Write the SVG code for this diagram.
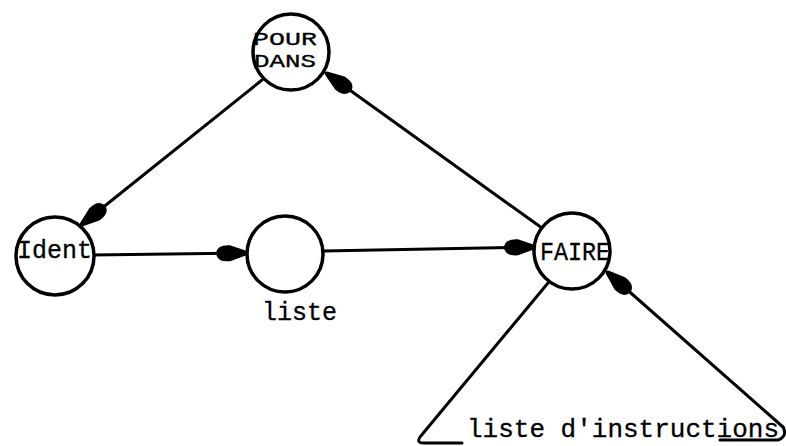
<svg xmlns="http://www.w3.org/2000/svg" width="786" height="446" viewBox="0 0 786 446">
<style>
.n{fill:#fff;stroke:#000;stroke-width:3.5}
.t{font-family:"Liberation Mono","DejaVu Sans Mono",monospace;font-size:26px;fill:#000;stroke:#000;stroke-width:0.3}
.s{font-size:19px}
.e{fill:none;stroke:#000;stroke-width:3;stroke-linecap:round;stroke-linejoin:round}
</style>
<defs>
<marker id="ah" markerUnits="userSpaceOnUse" markerWidth="40" markerHeight="24" refX="0" refY="0" viewBox="-34 -12 40 24" orient="auto" overflow="visible">
<path d="M0,-2 L-17,-8 Q-30,-9 -31,0 Q-30,9 -17,8 L0,2 Z" fill="#000"/>
</marker>
</defs>
<rect width="786" height="446" fill="#fff"/>
<g id="connectors">
<line class="e" x1="262" y1="80" x2="81" y2="225" marker-end="url(#ah)"/>
<line class="e" x1="542" y1="228" x2="326" y2="73" marker-end="url(#ah)"/>
<line class="e" x1="92" y1="255" x2="247" y2="253" marker-end="url(#ah)"/>
<line class="e" x1="323" y1="251" x2="535" y2="247" marker-end="url(#ah)"/>
<path class="e" d="M783,427 L607,272" marker-end="url(#ah)"/>
</g>
<g id="pour-dans">
<circle class="n" cx="291" cy="52" r="38"/>
<text class="t s" x="253" y="45" textLength="64" lengthAdjust="spacingAndGlyphs">POUR</text>
<text class="t s" x="254" y="67" textLength="62" lengthAdjust="spacingAndGlyphs">DANS</text>
</g>
<g id="ident">
<circle class="n" cx="55" cy="256" r="39"/>
<text class="t" x="17" y="258" textLength="75" lengthAdjust="spacingAndGlyphs">Ident</text>
</g>
<g id="liste">
<circle class="n" cx="285" cy="254" r="38"/>
<text class="t" x="262" y="320" textLength="75" lengthAdjust="spacingAndGlyphs">liste</text>
</g>
<g id="faire">
<circle class="n" cx="572" cy="251" r="38"/>
<text class="t" x="540" y="260" textLength="70" lengthAdjust="spacingAndGlyphs">FAIRE</text>
</g>
<g id="liste-instructions">
<path class="e" d="M548,283 L420,437 Q416,443 424,443 L462,443"/>
<path class="e" d="M783,427 Q788,436 778,440 L720,440"/>
<text class="t" x="467" y="437" textLength="312" lengthAdjust="spacingAndGlyphs">liste d'instructions</text>
</g>
</svg>
